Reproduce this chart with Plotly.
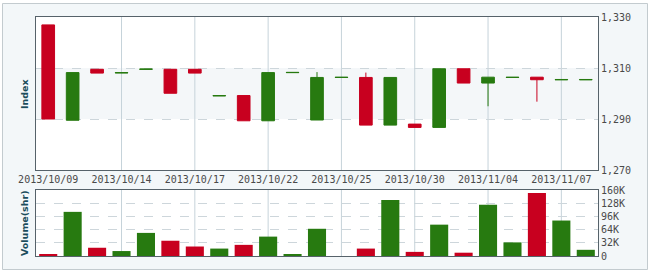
import plotly.graph_objects as go

dates = ["2013/10/09", "2013/10/10", "2013/10/11", "2013/10/14", "2013/10/15", "2013/10/16",
         "2013/10/17", "2013/10/18", "2013/10/21", "2013/10/22", "2013/10/23", "2013/10/24",
         "2013/10/25", "2013/10/28", "2013/10/29", "2013/10/30", "2013/10/31", "2013/11/01",
         "2013/11/04", "2013/11/05", "2013/11/06", "2013/11/07", "2013/11/08"]
open_ = [1290.0, 1308.2, 1308.0, 1308.2, 1309.6, 1300.1, 1308.0, 1299.2, 1289.3, 1308.2, 1308.3, 1306.3,
         1306.4, 1287.6, 1306.3, 1286.7, 1309.7, 1304.1, 1306.4, 1306.4, 1305.4, 1305.5, 1305.5]
close = [1326.9, 1289.5, 1309.5, 1308.1, 1309.5, 1309.5, 1309.5, 1299.1, 1299.2, 1289.3, 1308.2, 1289.6,
         1306.3, 1306.3, 1287.6, 1288.0, 1286.7, 1309.7, 1304.1, 1306.3, 1306.4, 1305.4, 1305.4]
high = [1326.9, 1308.2, 1309.5, 1308.2, 1309.6, 1309.5, 1309.5, 1299.2, 1299.2, 1308.2, 1308.3, 1308.4,
        1306.4, 1308.2, 1306.3, 1288.0, 1309.7, 1309.7, 1306.4, 1306.4, 1306.4, 1305.5, 1305.5]
low = [1290.0, 1289.5, 1308.0, 1308.1, 1309.5, 1300.1, 1308.0, 1299.1, 1289.3, 1289.3, 1308.2, 1289.6,
       1306.3, 1287.6, 1287.6, 1286.7, 1286.7, 1304.1, 1295.0, 1306.3, 1296.8, 1305.4, 1305.4]
volume = [3000, 107000, 20000, 12000, 56000, 37000, 23000, 18000, 27000, 47000, 3000, 66000,
          0, 18000, 136000, 10000, 76000, 8000, 124000, 33000, 153000, 86000, 15000]
price_ticks = [1270, 1290, 1310, 1330]
vol_ticks = [0, 32000, 64000, 96000, 128000, 160000]
vol_tick_text = ["0", "32K", "64K", "96K", "128K", "160K"]
date_tick_vals = dates[::3]

RED = "#c8001f"
GREEN = "#277a10"
GRAY = "#b0b8bc"
vol_colors = [GRAY if v == 0 else (RED if c > o else GREEN) for o, c, v in zip(open_, close, volume)]

tick_font = dict(family="DejaVu Sans Mono", size=10, color="#4a4a4a")
title_font = dict(family="DejaVu Sans", size=9.5, color="#1b4d5c")
border = "#56626a"
vgrid = "#c6d3da"
hgrid = "#cdd6db"

fig = go.Figure()
fig.add_trace(go.Candlestick(
    x=dates, open=open_, high=high, low=low, close=close,
    increasing=dict(line=dict(color=RED, width=1), fillcolor=RED),
    decreasing=dict(line=dict(color=GREEN, width=1), fillcolor=GREEN),
    whiskerwidth=0, xaxis="x", yaxis="y", showlegend=False, hoverinfo="skip",
))
fig.add_trace(go.Bar(
    x=dates, y=volume, marker=dict(color=vol_colors, line=dict(width=0)),
    width=0.74, xaxis="x2", yaxis="y2", showlegend=False,
))

L, R, T, B = 36, 52, 17, 18
W, H = 650, 274
pw, ph = W - L - R, H - T - B
main_bottom_px, vol_top_px = 170, 190

def px_x(p):
    return (p - L) / pw

def px_y(p):
    return (H - B - p) / ph

main_dom = [px_y(main_bottom_px), 1]
vol_dom = [0, px_y(vol_top_px)]

shapes = [
    dict(type="rect", xref="paper", yref="paper", layer="below",
         x0=px_x(2.5), x1=px_x(647.5), y0=px_y(269.5), y1=px_y(3.5),
         fillcolor="#f3f7f9", line=dict(color="#c3cbcf", width=1)),
    dict(type="rect", xref="paper", yref="paper", layer="below",
         x0=0, x1=1, y0=main_dom[0], y1=main_dom[1],
         fillcolor="white", line=dict(width=0)),
    dict(type="rect", xref="paper", yref="paper", layer="below",
         x0=0, x1=1, y0=vol_dom[0], y1=vol_dom[1],
         fillcolor="white", line=dict(width=0)),
    dict(type="rect", xref="x domain", yref="y", layer="below",
         x0=0, x1=1, y0=1290, y1=1310, fillcolor="#f4f7f9", line=dict(width=0)),
]
for d in date_tick_vals[1:]:
    shapes.append(dict(type="line", xref="x", yref="y domain", layer="below",
                       x0=d, x1=d, y0=0, y1=1, line=dict(color=vgrid, width=1)))
    shapes.append(dict(type="line", xref="x2", yref="y2 domain", layer="below",
                       x0=d, x1=d, y0=0, y1=1, line=dict(color=vgrid, width=1)))

fig.update_layout(
    width=W, height=H,
    margin=dict(l=L, r=R, t=T, b=B),
    paper_bgcolor="white", plot_bgcolor="white",
    showlegend=False,
    boxgap=0.26,
    bargap=0.26,
    xaxis=dict(
        type="category", domain=[0, 1], anchor="y", range=[-0.5, len(dates) - 0.5],
        tickmode="array", tickvals=date_tick_vals, ticktext=date_tick_vals,
        tickfont=tick_font, ticks="", showgrid=False,
        showline=True, mirror=True, linecolor=border, linewidth=1,
        rangeslider=dict(visible=False), zeroline=False,
    ),
    yaxis=dict(
        domain=main_dom, anchor="x", side="right",
        range=[price_ticks[0], price_ticks[-1]], tickmode="array", tickvals=price_ticks,
        tickformat=",d", tickfont=tick_font, ticks="",
        showgrid=True, gridcolor=hgrid, griddash="dash", gridwidth=1,
        showline=True, mirror=True, linecolor=border, linewidth=1, zeroline=False,
    ),
    xaxis2=dict(
        type="category", domain=[0, 1], anchor="y2", matches="x", range=[-0.5, len(dates) - 0.5],
        tickmode="array", tickvals=date_tick_vals, showticklabels=False, ticks="",
        showgrid=False,
        showline=True, mirror=True, linecolor=border, linewidth=1, zeroline=False,
    ),
    yaxis2=dict(
        domain=vol_dom, anchor="x2", side="right",
        range=[vol_ticks[0], vol_ticks[-1]], tickmode="array", tickvals=vol_ticks,
        ticktext=vol_tick_text, tickfont=tick_font, ticks="",
        showgrid=True, gridcolor=hgrid, griddash="dash", gridwidth=1,
        showline=True, mirror=True, linecolor=border, linewidth=1, zeroline=False,
    ),
    shapes=shapes,
    annotations=[
        dict(text="<b>Index</b>", xref="paper", yref="paper", x=px_x(24), y=px_y(94),
             textangle=-90, showarrow=False, font=title_font, xanchor="center", yanchor="middle"),
        dict(text="<b>Volume(shr)</b>", xref="paper", yref="paper", x=px_x(24), y=px_y(223),
             textangle=-90, showarrow=False, font=title_font, xanchor="center", yanchor="middle"),
    ],
)

fig.write_html("out.html")
